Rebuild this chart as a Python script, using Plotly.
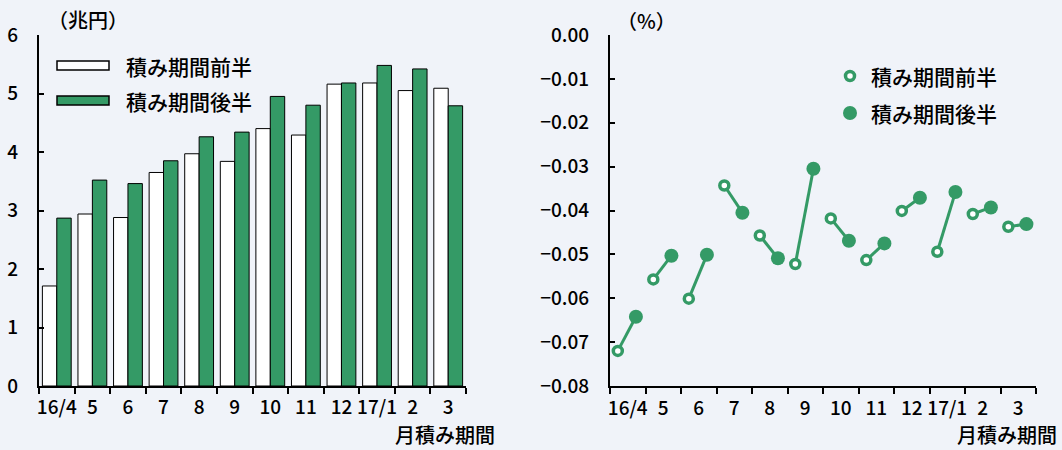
import plotly.graph_objects as go

# Reserve accumulation periods (months)
months = ["16/4", "5", "6", "7", "8", "9", "10", "11", "12", "17/1", "2", "3"]

# Left panel: amounts (trillion yen)
amount_first_half = [1.71, 2.94, 2.88, 3.65, 3.97, 3.84, 4.40, 4.29, 5.16, 5.18, 5.05, 5.09]
amount_second_half = [2.87, 3.52, 3.46, 3.85, 4.26, 4.34, 4.95, 4.80, 5.18, 5.48, 5.42, 4.79]

# Right panel: rates (%)
rate_first_half = [-0.0720, -0.0557, -0.0601, -0.0343, -0.0457, -0.0522,
                   -0.0418, -0.0513, -0.0401, -0.0494, -0.0408, -0.0437]
rate_second_half = [-0.0642, -0.0503, -0.0501, -0.0405, -0.0509, -0.0305,
                    -0.0469, -0.0475, -0.0371, -0.0358, -0.0393, -0.0431]

left_yticks = [0, 1, 2, 3, 4, 5, 6]
right_yticks = [0.00, -0.01, -0.02, -0.03, -0.04, -0.05, -0.06, -0.07, -0.08]
right_yticktext = ["0.00" if v == 0 else "\u2212" + f"{abs(v):.2f}" for v in right_yticks]

GREEN = "#349a66"
BG = "#f0f3f9"
FONT = "Noto Sans CJK JP"
W, H = 1062, 450

fig = go.Figure()

# ---- left panel: grouped bars ----
fig.add_trace(go.Bar(
    x=months, y=amount_first_half, name="積み期間前半",
    marker=dict(color="white", line=dict(color="black", width=1)),
    xaxis="x", yaxis="y", showlegend=False,
))
fig.add_trace(go.Bar(
    x=months, y=amount_second_half, name="積み期間後半",
    marker=dict(color=GREEN, line=dict(color="black", width=1)),
    xaxis="x", yaxis="y", showlegend=False,
))

# ---- right panel: first-half / second-half pairs joined per month ----
first_off, second_off = -0.28, 0.23
seg_x, seg_y = [], []
for i, (a, b) in enumerate(zip(rate_first_half, rate_second_half)):
    seg_x += [i + first_off, i + second_off, None]
    seg_y += [a, b, None]

fig.add_trace(go.Scatter(
    x=seg_x, y=seg_y, mode="lines", line=dict(color=GREEN, width=3),
    xaxis="x2", yaxis="y2", showlegend=False, hoverinfo="skip",
))
fig.add_trace(go.Scatter(
    x=[i + first_off for i in range(len(months))], y=rate_first_half,
    mode="markers", name="積み期間前半",
    marker=dict(symbol="circle", size=9, color="white", line=dict(color=GREEN, width=3.5)),
    xaxis="x2", yaxis="y2", showlegend=False,
))
fig.add_trace(go.Scatter(
    x=[i + second_off for i in range(len(months))], y=rate_second_half,
    mode="markers", name="積み期間後半",
    marker=dict(symbol="circle", size=14, color=GREEN, line=dict(width=0)),
    xaxis="x2", yaxis="y2", showlegend=False,
))
# invisible trace so the label axis x3 is drawn
fig.add_trace(go.Scatter(
    x=[0], y=[None], mode="markers", xaxis="x3", yaxis="y2",
    showlegend=False, hoverinfo="skip",
))

ydom = [1 - 386 / H, 1 - 35 / H]
tick_font = dict(family=FONT, size=19, color="black", weight=500)
axis_common = dict(showline=True, linecolor="black", linewidth=2, showgrid=False,
                   zeroline=False, tickcolor="black", tickwidth=1.5, tickfont=tick_font,
                   automargin=False)

fig.update_layout(
    width=W, height=H,
    margin=dict(l=0, r=0, t=0, b=0),
    paper_bgcolor=BG, plot_bgcolor=BG,
    barmode="group", bargap=0.19, bargroupgap=0,
    font=dict(family=FONT, color="black"),
    xaxis=dict(domain=[39 / W, 466 / W], anchor="y", type="category",
               tickson="boundaries", ticks="outside", ticklen=6, tickangle=0,
               ticklabelstandoff=3,
               range=[-0.5, len(months) - 0.5], **axis_common),
    yaxis=dict(domain=ydom, anchor="x", range=[0, 6], tickvals=left_yticks,
               ticks="inside", ticklen=5, ticklabelstandoff=15, **axis_common),
    xaxis2=dict(domain=[610 / W, 1036 / W], anchor="y2",
                range=[-0.5, len(months) - 0.5],
                tickvals=[i - 0.5 for i in range(len(months) + 1)],
                ticktext=[""] * (len(months) + 1),
                ticks="outside", ticklen=6, **axis_common),
    xaxis3=dict(overlaying="x2", anchor="y2", side="bottom",
                range=[-0.5, len(months) - 0.5],
                tickvals=list(range(len(months))), ticktext=months,
                showline=False, showgrid=False, zeroline=False, ticks="",
                tickangle=0, ticklabelstandoff=9, automargin=False,
                tickfont=tick_font),
    yaxis2=dict(domain=ydom, anchor="x2", range=[-0.08, 0], tickvals=right_yticks,
                ticktext=right_yticktext, ticks="inside", ticklen=5,
                ticklabelstandoff=15, **axis_common),
)

# unit labels and axis captions
label_font = dict(family=FONT, size=20, color="black", weight=500)
for x, y, text, anchor in [
    (46, 20, "（兆円）", "left"),
    (615, 21, "（%）", "left"),
    (497, 434, "月積み期間", "right"),
    (1059, 434, "月積み期間", "right"),
]:
    fig.add_annotation(x=x / W, y=1 - y / H, xref="paper", yref="paper", text=text,
                       showarrow=False, xanchor=anchor, yanchor="middle", font=label_font)

# legend for the bar panel
legend_font = dict(family=FONT, size=21, color="black", weight=500)
for (y0, y1), fill, text in [((61, 70), "white", "積み期間前半"),
                             ((96, 105), GREEN, "積み期間後半")]:
    fig.add_shape(type="rect", xref="paper", yref="paper",
                  x0=57 / W, x1=109 / W, y0=1 - y1 / H, y1=1 - y0 / H,
                  fillcolor=fill, line=dict(color="black", width=1.5))
    fig.add_annotation(x=124 / W, y=1 - ((y0 + y1) / 2) / H, xref="paper", yref="paper",
                       text=text, showarrow=False, xanchor="left", yanchor="middle",
                       font=legend_font)

# legend for the rate panel
for cy, fill, lw, d, text in [(76, "white", 3.5, 9, "積み期間前半"),
                              (113, GREEN, 0, 14, "積み期間後半")]:
    fig.add_shape(type="circle", xref="paper", yref="paper",
                  xsizemode="pixel", ysizemode="pixel",
                  xanchor=850 / W, yanchor=1 - cy / H,
                  x0=-d / 2, x1=d / 2, y0=-d / 2, y1=d / 2,
                  fillcolor=fill, line=dict(color=GREEN, width=lw))
    fig.add_annotation(x=869 / W, y=1 - cy / H, xref="paper", yref="paper",
                       text=text, showarrow=False, xanchor="left", yanchor="middle",
                       font=legend_font)

fig.write_html("out.html")
